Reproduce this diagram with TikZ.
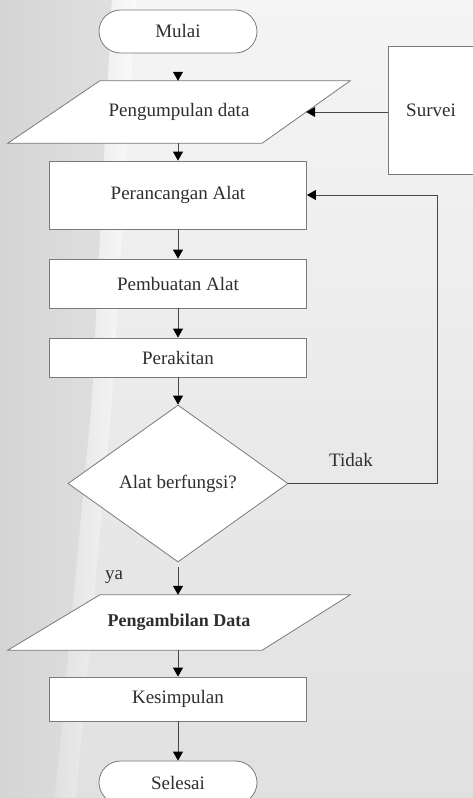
\documentclass[tikz,border=0pt]{standalone}
\usepackage{fontspec}
\setmainfont{Liberation Serif}
\usetikzlibrary{arrows.meta,shapes.geometric}
\pgfdeclarelayer{bg}
\pgfsetlayers{bg,main}
\definecolor{bordercol}{HTML}{7A7A7A}
\definecolor{linecol}{HTML}{474747}
\definecolor{txtcol}{HTML}{2E2E2E}
\begin{document}
\begin{tikzpicture}[x=1pt,y=-1pt,
  every node/.style={font=\fontsize{19}{22}\selectfont, text=txtcol},
  box/.style={draw=bordercol, fill=white, rectangle, minimum width=257pt, inner sep=0pt, line width=0.8pt},
  term/.style={draw=bordercol, fill=white, rectangle, rounded corners=21.5pt, minimum width=158pt, minimum height=43pt, inner sep=0pt, line width=0.8pt},
  decide/.style={draw=bordercol, fill=white, diamond, minimum width=220pt, minimum height=157pt, inner sep=0pt, line width=0.8pt},
  iobox/.style={rectangle, minimum width=342pt, inner sep=0pt},
  paral/.style={draw=bordercol, fill=white, line width=0.8pt},
  arr/.style={draw=linecol, line width=0.8pt, -{Triangle[width=10pt,length=9pt,color=black]}},
  lbl/.style={font=\fontsize{19}{22}\selectfont}]
\useasboundingbox (0,0) rectangle (473,798);
\clip (0,0) rectangle (473,798);

% nodes
\node[term] (mulai) at (178,31.5) {Mulai};
\node[iobox, minimum height=62pt] (pd) at (179,112) {Pengumpulan data};
\node[box, minimum width=102pt, minimum height=128pt] (sv) at (439,110) {\hspace*{-16pt}Survei};
\node[box, minimum height=68pt] (pa) at (178,195) {Perancangan Alat};
\node[box, minimum height=49pt] (pb) at (178,283.5) {Pembuatan Alat};
\node[box, minimum height=39pt] (pr) at (178,357.5) {Perakitan};
\node[decide] (dec) at (178,483.5) {Alat berfungsi?};
\node[iobox, minimum height=55pt, font=\fontsize{18}{21}\selectfont\bfseries] (pg) at (179,622.5) {Pengambilan Data};
\node[box, minimum height=44pt] (ks) at (178,699) {Kesimpulan};
\node[term] (sl) at (178,782.5) {Selesai};
\node[lbl] (tidak) at (351,460) {Tidak};
\node[lbl] (ya) at (114,577) {ya};
\coordinate (fb) at (437,0);

% background and parallelograms
\begin{pgfonlayer}{bg}
  \shade[top color=gray!8, bottom color=gray!24] (0,0) rectangle (473,798);
  \shade[left color=gray!33, right color=gray!25] (0,0) -- (112,0) -- (92,400) -- (55,798) -- (0,798) -- cycle;
  \shade[left color=gray!24, right color=gray!4] (112,0) -- (136,0) -- (112,400) -- (76,798) -- (55,798) -- (92,400) -- cycle;
  \draw[paral] ([xshift=92pt]pd.north west) -- (pd.north east) -- ([xshift=-88pt]pd.south east) -- (pd.south west) -- cycle;
  \draw[paral] ([xshift=92pt]pg.north west) -- (pg.north east) -- ([xshift=-88pt]pg.south east) -- (pg.south west) -- cycle;
\end{pgfonlayer}

% connectors
\draw[arr, shorten <=19pt] (mulai.south) -- (mulai.south |- pd.north);
\draw[arr] (sv.west |- pd) -- ([xshift=-44pt]pd.east);
\draw[arr] (pd.south -| pa.north) -- (pa.north);
\draw[arr] (pa) -- (pb);
\draw[arr] (pb) -- (pr);
\draw[arr] (pr) -- (dec);
\draw[arr] (dec.east) -| (fb |- pa.east) -- (pa.east);
\draw[arr, shorten <=5pt] (dec.south) -- (dec.south |- pg.north);
\draw[arr] (pg.south -| ks.north) -- (ks.north);
\draw[arr] (ks) -- (sl);
\end{tikzpicture}
\end{document}
